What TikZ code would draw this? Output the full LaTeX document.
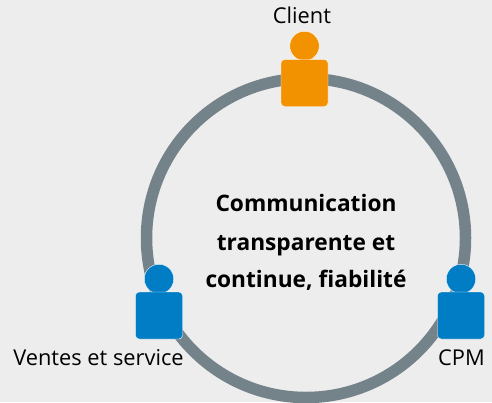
\documentclass[tikz,border=0pt]{standalone}
\usepackage{fontspec}
\setmainfont{Open Sans}
\definecolor{bgc}{HTML}{EDEDED}
\definecolor{ringc}{HTML}{74828A}
\definecolor{orangec}{HTML}{F39200}
\definecolor{bluec}{HTML}{007DC5}
\tikzset{
 x=1pt,y=-1pt,
 ring/.style={draw=ringc,line width=11.5pt},
 body/.style={rectangle,rounded corners=3.5pt,draw=white,line width=0.4pt,minimum width=47pt,minimum height=47pt,inner sep=0pt},
 head/.style={circle,draw=white,line width=0.4pt,minimum size=29.5pt,inner sep=0pt},
 lbl/.style={font=\fontsize{21.8}{24}\selectfont,text=black,inner sep=0pt,anchor=base},
 ctr/.style={font=\fontsize{22.7}{24}\selectfont\bfseries,text=black,inner sep=0pt,anchor=base},
}
\begin{document}
\begin{tikzpicture}
\useasboundingbox (0,0) rectangle (492,402);
\fill[bgc] (0,0) rectangle (492,402);
\begin{scope}
\clip (0,0) rectangle (492,402);
\draw[ring] (306,238) circle[radius=159.5pt];
\end{scope}
\node[head,fill=orangec] (clienthead) at (304.5,46) {};
\node[body,fill=orangec] (clientbody) at (304.5,83) {};
\node[head,fill=bluec] (venteshead) at (159,279) {};
\node[body,fill=bluec] (ventesbody) at (159,315.5) {};
\node[head,fill=bluec] (cpmhead) at (461,279) {};
\node[body,fill=bluec] (cpmbody) at (461,315.5) {};
\node[lbl] (client) at (302,23) {Client};
\node[lbl] (ventes) at (98.5,365) {Ventes et service};
\node[lbl] (cpm) at (461.5,365) {CPM};
\node[ctr] (c1) at (306,211) {Communication};
\node[ctr] (c2) at (306,250) {transparente et};
\node[ctr] (c3) at (306,287) {continue, fiabilité};
\end{tikzpicture}
\end{document}
